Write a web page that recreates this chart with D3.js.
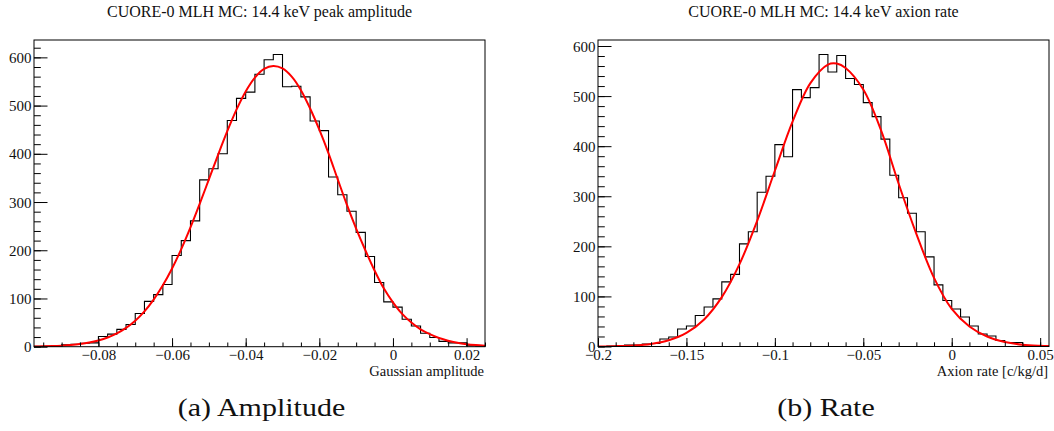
<!DOCTYPE html>
<html>
<head>
<meta charset="utf-8">
<script src="https://cdn.jsdelivr.net/npm/d3@7"></script>
<style>
  html, body { margin: 0; padding: 0; background: #fff; }
  svg { display: block; }
  text { font-family: "Liberation Serif", "Times New Roman", serif; fill: #111; }
</style>
</head>
<body>
<svg id="chart" width="1054" height="431"></svg>
<script>
// ---------- Panel (a): Gaussian amplitude ----------
const ampTitle = "CUORE-0 MLH MC: 14.4 keV peak amplitude";
const ampXLabel = "Gaussian amplitude";
const ampCaption = "(a) Amplitude";
const ampBinStart = -0.0975;
const ampBinWidth = 0.0025;
const ampCounts = [1, 1, 1, 4, 5, 7, 8, 21, 26, 36, 46, 69, 94, 108, 129, 189, 220, 261, 346, 369,
                   400, 469, 515, 528, 565, 595, 606, 539, 540, 518, 468, 448, 352, 315, 281, 237, 187, 133, 93, 82,
                   57, 43, 28, 19, 11, 8, 8, 2, 1];
const ampFitX = [-0.0975, -0.095, -0.0925, -0.09, -0.0875, -0.085, -0.0825, -0.08, -0.0775, -0.075,
                 -0.0725, -0.07, -0.0675, -0.065, -0.0625, -0.06, -0.0575, -0.055, -0.0525, -0.05,
                 -0.0475, -0.045, -0.0425, -0.04, -0.0375, -0.035, -0.0325, -0.03, -0.0275, -0.025,
                 -0.0225, -0.02, -0.0175, -0.015, -0.0125, -0.01, -0.0075, -0.005, -0.0025, 0,
                 0.0025, 0.005, 0.0075, 0.01, 0.0125, 0.015, 0.0175, 0.02, 0.0225, 0.025];
const ampFitY = [0.5, 0.8, 1.3, 2.2, 3.5, 5.5, 8.5, 12.9, 19.0, 27.5,
                 39.0, 54.0, 73.4, 97.7, 127.2, 162.1, 202.4, 247.4, 296.1, 346.9,
                 397.9, 446.9, 491.5, 529.2, 557.9, 575.9, 582, 577, 560, 532,
                 494, 450, 401, 347, 294, 245, 200, 158, 121, 92,
                 68, 50, 36, 26, 18, 12.5, 8, 5.2, 3.3, 2];
const ampXDomain = [-0.0975, 0.025];
const ampYDomain = [0, 636];
const ampXTicks = [-0.08, -0.06, -0.04, -0.02, 0, 0.02];
const ampXTickLabels = ["\u22120.08", "\u22120.06", "\u22120.04", "\u22120.02", "0", "0.02"];
const ampXMinorStep = 0.005;
const ampYTicks = [0, 100, 200, 300, 400, 500, 600];
const ampYTickLabels = ["0", "100", "200", "300", "400", "500", "600"];
const ampYMinorStep = 20;

// ---------- Panel (b): Axion rate ----------
const rateTitle = "CUORE-0 MLH MC: 14.4 keV axion rate";
const rateXLabel = "Axion rate [c/kg/d]";
const rateCaption = "(b) Rate";
const rateBinStart = -0.2;
const rateBinWidth = 0.005;
const rateCounts = [0, 1, 1, 3, 3, 5, 6, 15, 19, 35, 41, 62, 79, 95, 129, 144, 205, 229, 308, 340,
                    403, 379, 513, 497, 517, 583, 548, 581, 535, 523, 487, 459, 414, 342, 297, 266, 229, 179, 123, 92,
                    75, 59, 41, 25, 21, 12, 8, 8, 2, 1, 0];
const rateFitX = [-0.2, -0.19, -0.18, -0.17, -0.16, -0.15, -0.14, -0.13, -0.12, -0.11,
                  -0.10, -0.09, -0.08, -0.07, -0.065, -0.06, -0.05, -0.04, -0.03, -0.02,
                  -0.01, 0, 0.01, 0.02, 0.03, 0.04, 0.05, 0.055];
const rateFitY = [0.2, 0.7, 2.0, 5.2, 12.5, 27.1, 54.0, 98.5, 164.4, 251.0,
                  350.9, 448.8, 525.5, 563.0, 565, 556, 513, 432, 325, 225,
                  137, 75, 40, 20, 9, 3.7, 1.4, 0.8];
const rateXDomain = [-0.2, 0.055];
const rateYDomain = [0, 612];
const rateXTicks = [-0.2, -0.15, -0.1, -0.05, 0, 0.05];
const rateXTickLabels = ["\u22120.2", "\u22120.15", "\u22120.1", "\u22120.05", "0", "0.05"];
const rateXMinorStep = 0.01;
const rateYTicks = [0, 100, 200, 300, 400, 500, 600];
const rateYTickLabels = ["0", "100", "200", "300", "400", "500", "600"];
const rateYMinorStep = 20;

const svg = d3.select("#chart");

function minorValues(domain, step) {
  const out = [];
  const start = Math.ceil(domain[0] / step - 1e-6);
  const end = Math.floor(domain[1] / step + 1e-6);
  for (let i = start; i <= end; i++) out.push(+(i * step).toFixed(6));
  return out;
}

function drawPanel(cfg) {
  const g = svg.append("g");
  const x = d3.scaleLinear().domain(cfg.xDomain).range([cfg.left, cfg.right]);
  const y = d3.scaleLinear().domain(cfg.yDomain).range([cfg.bottom, cfg.top]);
  const id = "clip" + cfg.key;

  svg.append("defs").append("clipPath").attr("id", id)
    .append("rect").attr("x", cfg.left).attr("y", cfg.top)
    .attr("width", cfg.right - cfg.left).attr("height", cfg.bottom - cfg.top);

  // histogram (step outline)
  const pts = cfg.counts.map((c, i) => [cfg.binStart + i * cfg.binWidth, c]);
  pts.push([cfg.binStart + cfg.counts.length * cfg.binWidth, cfg.counts[cfg.counts.length - 1]]);
  const hLine = d3.line().x(d => x(d[0])).y(d => y(d[1])).curve(d3.curveStepAfter);
  g.append("path").attr("d", hLine(pts))
    .attr("fill", "none").attr("stroke", "#000").attr("stroke-width", 1.1)
    .attr("clip-path", `url(#${id})`);

  // fit curve
  const fLine = d3.line().x((d, i) => x(cfg.fitX[i])).y(d => y(d)).curve(d3.curveCatmullRom.alpha(0.5));
  g.append("path").attr("d", fLine(cfg.fitY))
    .attr("fill", "none").attr("stroke", "#ff0000").attr("stroke-width", 2)
    .attr("clip-path", `url(#${id})`);

  // x axis (ticks inside, pointing up)
  const xMajor = d3.axisBottom(x).tickValues(cfg.xTicks)
    .tickFormat((d, i) => cfg.xTickLabels[i]).tickSizeInner(-8.5).tickSizeOuter(0).tickPadding(0);
  const xMinor = d3.axisBottom(x).tickValues(minorValues(cfg.xDomain, cfg.xMinorStep))
    .tickFormat("").tickSizeInner(-4.2).tickSizeOuter(0);
  const gxm = g.append("g").attr("transform", `translate(0,${cfg.bottom})`).call(xMinor);
  const gx = g.append("g").attr("transform", `translate(0,${cfg.bottom})`).call(xMajor);
  [gx, gxm].forEach(a => { a.select(".domain").remove(); a.selectAll("line").attr("stroke", "#000"); });
  gx.selectAll("text").attr("y", 13.6).attr("dy", 0)
    .style("font-family", "'Liberation Serif', serif").style("font-size", "15px").attr("fill", "#111");

  // y axis (ticks inside, pointing right)
  const yMajor = d3.axisLeft(y).tickValues(cfg.yTicks)
    .tickFormat((d, i) => cfg.yTickLabels[i]).tickSizeInner(-13.5).tickSizeOuter(0).tickPadding(2.5);
  const yMinor = d3.axisLeft(y).tickValues(minorValues(cfg.yDomain, cfg.yMinorStep))
    .tickFormat("").tickSizeInner(-6.8).tickSizeOuter(0);
  const gym = g.append("g").attr("transform", `translate(${cfg.left},0)`).call(yMinor);
  const gy = g.append("g").attr("transform", `translate(${cfg.left},0)`).call(yMajor);
  [gy, gym].forEach(a => { a.select(".domain").remove(); a.selectAll("line").attr("stroke", "#000"); });
  gy.selectAll("text").attr("dy", "0.34em")
    .style("font-family", "'Liberation Serif', serif").style("font-size", "15px").attr("fill", "#111");

  // frame
  g.append("rect").attr("x", cfg.left).attr("y", cfg.top)
    .attr("width", cfg.right - cfg.left).attr("height", cfg.bottom - cfg.top)
    .attr("fill", "none").attr("stroke", "#000").attr("stroke-width", 1);

  // title
  g.append("text").attr("x", (cfg.left + cfg.right) / 2).attr("y", 17)
    .attr("text-anchor", "middle").style("font-size", "16px").text(cfg.title);

  // axis title
  g.append("text").attr("x", cfg.right - 1).attr("y", 376)
    .attr("text-anchor", "end").style("font-size", "14.5px").text(cfg.xLabel);

  // caption
  g.append("text").attr("transform", `translate(${cfg.captionX},416) scale(1.2,1)`)
    .attr("text-anchor", "middle").style("font-size", "25px").text(cfg.caption);
}

drawPanel({
  key: "a", left: 34, right: 485, top: 40, bottom: 346.7,
  xDomain: ampXDomain, yDomain: ampYDomain,
  binStart: ampBinStart, binWidth: ampBinWidth, counts: ampCounts,
  fitX: ampFitX, fitY: ampFitY,
  xTicks: ampXTicks, xTickLabels: ampXTickLabels, xMinorStep: ampXMinorStep,
  yTicks: ampYTicks, yTickLabels: ampYTickLabels, yMinorStep: ampYMinorStep,
  title: ampTitle, xLabel: ampXLabel, caption: ampCaption, captionX: 261.5
});

drawPanel({
  key: "b", left: 598, right: 1049, top: 40, bottom: 346.5,
  xDomain: rateXDomain, yDomain: rateYDomain,
  binStart: rateBinStart, binWidth: rateBinWidth, counts: rateCounts,
  fitX: rateFitX, fitY: rateFitY,
  xTicks: rateXTicks, xTickLabels: rateXTickLabels, xMinorStep: rateXMinorStep,
  yTicks: rateYTicks, yTickLabels: rateYTickLabels, yMinorStep: rateYMinorStep,
  title: rateTitle, xLabel: rateXLabel, caption: rateCaption, captionX: 826
});
</script>
</body>
</html>
